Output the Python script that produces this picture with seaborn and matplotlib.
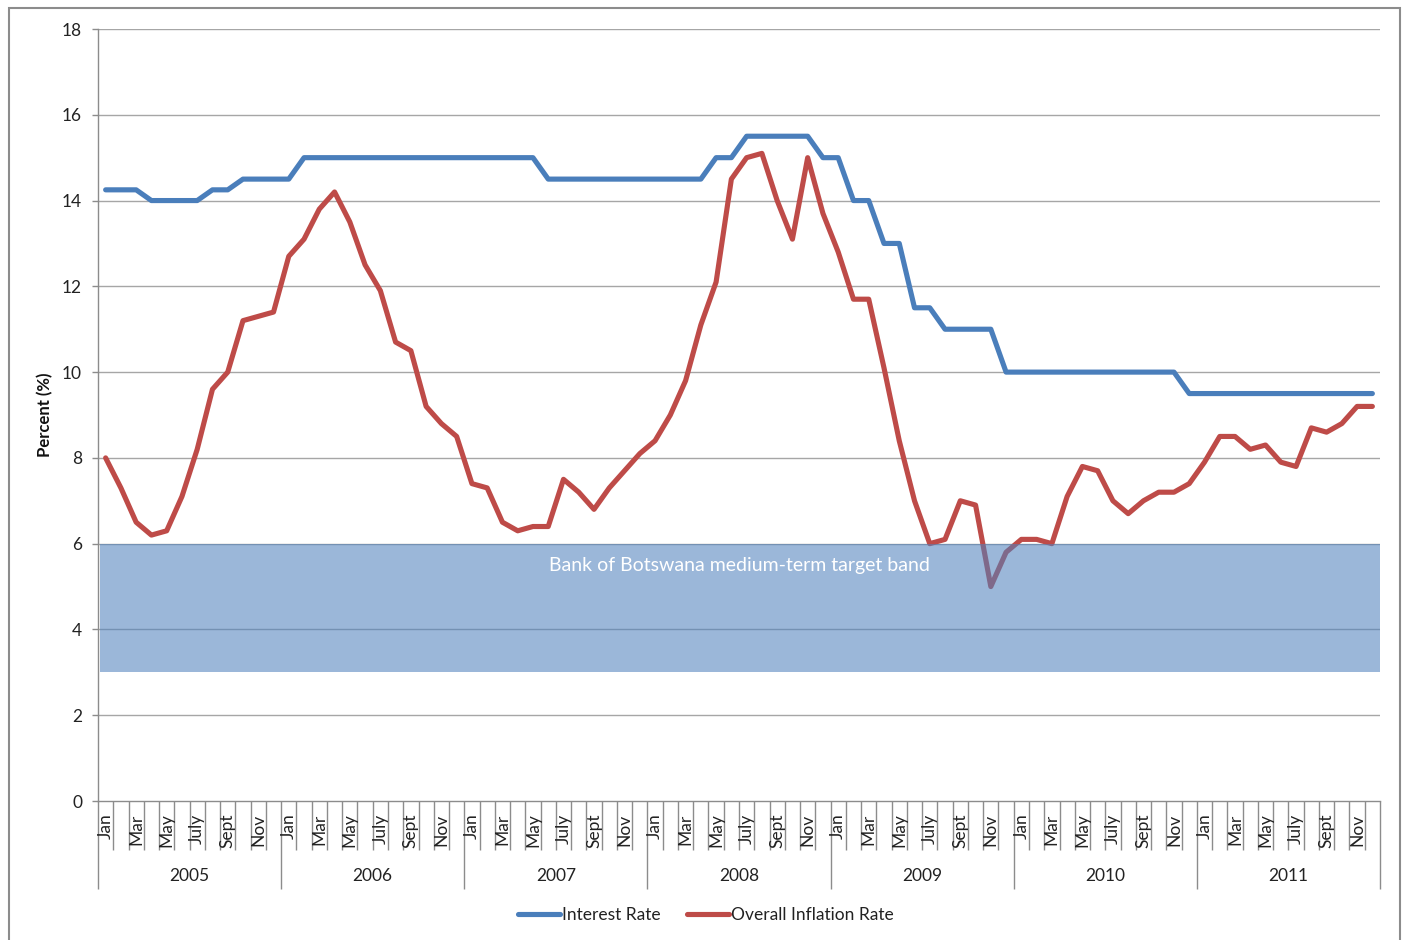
import numpy as np
import pandas as pd
import matplotlib
matplotlib.use("Agg")
import matplotlib.pyplot as plt
import seaborn as sns
from matplotlib.patches import Rectangle
from matplotlib.lines import Line2D

# ---------------- data ----------------
years = ["2005", "2006", "2007", "2008", "2009", "2010", "2011"]
month_labels = ["Jan", "", "Mar", "", "May", "", "July", "", "Sept", "", "Nov", ""]

interest_rate = [
    14.25, 14.25, 14.25, 14.0, 14.0, 14.0, 14.0, 14.25, 14.25, 14.5, 14.5, 14.5,
    14.5, 15.0, 15.0, 15.0, 15.0, 15.0, 15.0, 15.0, 15.0, 15.0, 15.0, 15.0,
    15.0, 15.0, 15.0, 15.0, 15.0, 14.5, 14.5, 14.5, 14.5, 14.5, 14.5, 14.5,
    14.5, 14.5, 14.5, 14.5, 15.0, 15.0, 15.5, 15.5, 15.5, 15.5, 15.5, 15.0,
    15.0, 14.0, 14.0, 13.0, 13.0, 11.5, 11.5, 11.0, 11.0, 11.0, 11.0, 10.0,
    10.0, 10.0, 10.0, 10.0, 10.0, 10.0, 10.0, 10.0, 10.0, 10.0, 10.0, 9.5,
    9.5, 9.5, 9.5, 9.5, 9.5, 9.5, 9.5, 9.5, 9.5, 9.5, 9.5, 9.5,
]
inflation_rate = [
    8.0, 7.3, 6.5, 6.2, 6.3, 7.1, 8.2, 9.6, 10.0, 11.2, 11.3, 11.4,
    12.7, 13.1, 13.8, 14.2, 13.5, 12.5, 11.9, 10.7, 10.5, 9.2, 8.8, 8.5,
    7.4, 7.3, 6.5, 6.3, 6.4, 6.4, 7.5, 7.2, 6.8, 7.3, 7.7, 8.1,
    8.4, 9.0, 9.8, 11.1, 12.1, 14.5, 15.0, 15.1, 14.0, 13.1, 15.0, 13.7,
    12.8, 11.7, 11.7, 10.1, 8.4, 7.0, 6.0, 6.1, 7.0, 6.9, 5.0, 5.8,
    6.1, 6.1, 6.0, 7.1, 7.8, 7.7, 7.0, 6.7, 7.0, 7.2, 7.2, 7.4,
    7.9, 8.5, 8.5, 8.2, 8.3, 7.9, 7.8, 8.7, 8.6, 8.8, 9.2, 9.2,
]
series_names = ["Interest Rate", "Overall Inflation Rate"]
band_low, band_high = 3, 6
band_label = "Bank of Botswana medium-term target band"
y_ticks = [0, 2, 4, 6, 8, 10, 12, 14, 16, 18]
y_label = "Percent (%)"

# ---------------- style ----------------
sns.set_theme(style="white")
plt.rcParams["font.family"] = ["Lato", "DejaVu Sans"]

blue = "#4A7EBB"
red = "#BE4B48"
grey = "#8C8C8C"
grid_grey = "#A6A6A6"

n = len(interest_rate)
idx = np.arange(n)
df = pd.DataFrame({
    "idx": np.concatenate([idx, idx]),
    "value": interest_rate + inflation_rate,
    "series": [series_names[0]] * n + [series_names[1]] * n,
})

fig = plt.figure(figsize=(14.04, 9.40), dpi=100)
ax = fig.add_axes([98 / 1404, 1 - 801 / 940, (1380 - 98) / 1404, (801 - 29) / 940])

# gridlines
for yv in y_ticks[1:]:
    ax.axhline(yv, color=grid_grey, lw=1.0, zorder=0)

sns.lineplot(data=df, x="idx", y="value", hue="series",
             palette={series_names[0]: blue, series_names[1]: red},
             linewidth=3.7, ax=ax, legend=False, zorder=2,
             solid_joinstyle="round", solid_capstyle="round")

# target band (semi-transparent, over lines)
ax.axhspan(band_low, band_high, xmin=0.0015, xmax=1.0, facecolor="#4F81BD",
           alpha=0.57, edgecolor="none", zorder=3)
ax.text(41.55, 5.5, band_label, color="white", fontsize=14,
        ha="center", va="center", zorder=4)

ax.set_xlim(-0.5, n - 0.5)
ax.set_ylim(0, 18)
ax.set_yticks(y_ticks)
ax.set_yticklabels([str(v) for v in y_ticks], fontsize=12.5, color="#222222")
ax.set_xlabel("")
ax.set_ylabel(y_label, fontsize=12, fontweight="bold", color="#111111", labelpad=6)
ax.tick_params(axis="y", length=4.5, width=1, color=grey, pad=7, left=True)

# x-axis: minor ticks at each month boundary, major ticks at year boundaries
ax.set_xticks(np.arange(-0.5, n, 12))
ax.set_xticklabels([])
ax.set_xticks(np.arange(-0.5, n, 1), minor=True)
ax.tick_params(axis="x", which="major", length=63, width=1, color=grey, bottom=True)
ax.tick_params(axis="x", which="minor", length=35, width=1, color=grey, bottom=True)

for s in ["top", "right"]:
    ax.spines[s].set_visible(False)
for s in ["left", "bottom"]:
    ax.spines[s].set_color(grey)
    ax.spines[s].set_linewidth(1.0)

# month labels
for i in range(n):
    lab = month_labels[i % 12]
    if lab:
        ax.annotate(lab, xy=(i, 0), xycoords=("data", "axes fraction"),
                    xytext=(0, -9), textcoords="offset points",
                    rotation=90, ha="center", va="top", fontsize=12.5,
                    color="#222222", annotation_clip=False)
# year labels
for k, yr in enumerate(years):
    ax.annotate(yr, xy=(k * 12 + 5.5, 0), xycoords=("data", "axes fraction"),
                xytext=(0, -54), textcoords="offset points",
                ha="center", va="center", fontsize=12.5, color="#222222",
                annotation_clip=False)

# legend
handles = [Line2D([0], [0], color=blue, lw=3.7, solid_capstyle="round"),
           Line2D([0], [0], color=red, lw=3.7, solid_capstyle="round")]
fig.legend(handles, series_names, loc="center", bbox_to_anchor=(706 / 1404, 1 - 915 / 940),
           ncol=2, frameon=False, fontsize=12.5, handlelength=2.4, handletextpad=0.15,
           columnspacing=1.5, labelcolor="#222222")

# outer frame
fig.patches.append(Rectangle((9 / 1404, -0.1), (1400 - 9) / 1404, 0.1 + (1 - 8 / 940),
                             transform=fig.transFigure, fill=False,
                             edgecolor="#8C8C8C", lw=1.5, zorder=-1))

fig.savefig("out.png", dpi=100)
